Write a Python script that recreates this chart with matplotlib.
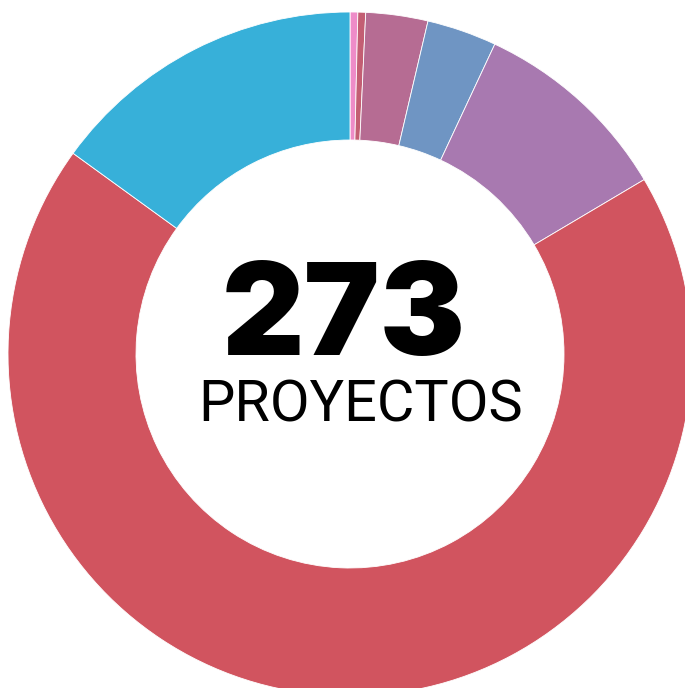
import matplotlib
matplotlib.use("Agg")
import matplotlib.pyplot as plt

W, H = 685, 688

# slices clockwise from 12 o'clock
labels = ["A", "B", "C", "D", "E", "F", "G"]
counts = [1, 1, 8, 9, 26, 187, 41]
colors = ["#EE8CC8", "#C35E73", "#B66C93", "#6F95C3", "#A879B0", "#D1545F", "#37B0D9"]
total = sum(counts)

fig = plt.figure(figsize=(W / 100, H / 100), dpi=100)
ax = fig.add_axes([0, 0, 1, 1])

cx, cy, R = 350, H - 354, 342
ax.pie(counts, colors=colors, startangle=90, counterclock=False,
       center=(cx, cy), radius=R, frame=True,
       wedgeprops=dict(width=128, edgecolor="white", linewidth=0.6))
ax.set_xlim(0, W)
ax.set_ylim(0, H)
ax.set_aspect("equal")
ax.axis("off")

ax.text(344, H - 355, str(total), ha="center", va="baseline",
        fontsize=92, fontweight="black", family="Inter", color="black")
ax.text(361, H - 422, "PROYECTOS", ha="center", va="baseline",
        fontsize=41.5, fontweight="normal", family="Roboto", color="black")

fig.savefig("out.png", dpi=100)
